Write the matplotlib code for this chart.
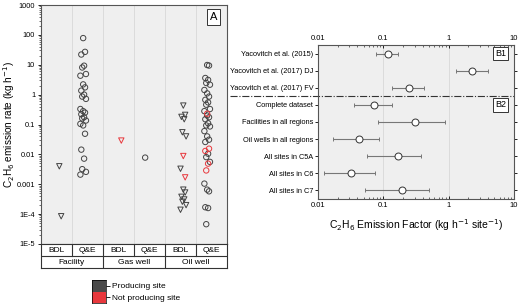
"""Ethane emission rates per site (A) and emission factors (B1/B2)."""

import matplotlib
matplotlib.use("Agg")
import matplotlib.pyplot as plt
import numpy as np

# ---- panel A data: emission rate (kg/h) per column, producing vs not producing
columns = ["BDL", "Q&E", "BDL", "Q&E", "BDL", "Q&E"]
groups = ["Facility", "Gas well", "Oil well"]

facility_bdl = [0.004, 8.5e-5]
facility_qe = [78, 27, 22, 9.3, 8.1, 4.9, 4.3, 2.2, 1.75, 1.36, 1.0, 0.86, 0.72,
               0.33, 0.28, 0.25, 0.22, 0.175, 0.16, 0.136, 0.105, 0.093, 0.049,
               0.0144, 0.0072, 0.0032, 0.0026, 0.0021]
gas_bdl_np = [0.029]
gas_qe = [0.0078]
oil_bdl = [0.43, 0.21, 0.18, 0.15, 0.055, 0.04, 0.0033, 6.6e-4, 5.3e-4, 3.8e-4,
           3.1e-4, 2.6e-4, 2.0e-4, 1.4e-4]
oil_bdl_np = [0.0088, 0.0017]
oil_qe = [9.8, 9.4, 3.6, 3.1, 2.45, 2.15, 1.43, 1.1, 0.86, 0.67, 0.55, 0.46, 0.33,
          0.28, 0.2, 0.175, 0.15, 0.11, 0.093, 0.086, 0.06, 0.04, 0.031, 0.026,
          0.0105, 0.0081, 0.0056, 0.00105, 6.6e-4, 5.8e-4, 1.7e-4, 1.6e-4, 4.6e-5]
oil_qe_np = [0.23, 0.0155, 0.013, 0.0049, 0.0029]

# ---- panel B data: emission factor (kg/h/site) with lower/upper bounds
ef_labels = ["Yacovitch et al. (2015)", "Yacovitch et al. (2017) DJ",
             "Yacovitch et al. (2017) FV", "Complete dataset",
             "Facilities in all regions", "Oil wells in all regions",
             "All sites in C5A", "All sites in C6", "All sites in C7"]
ef_mean = [0.117, 2.3, 0.25, 0.073, 0.31, 0.042, 0.168, 0.032, 0.19]
ef_low = [0.077, 1.3, 0.136, 0.036, 0.082, 0.017, 0.057, 0.0124, 0.052]
ef_high = [0.166, 3.95, 0.42, 0.137, 0.89, 0.085, 0.38, 0.075, 0.50]

legend_labels = ["Producing site", "Not producing site"]

GRAY_BG = "#efefef"
EDGE = "#444444"
RED = "#e8383d"
PROD = "#4a4a4a"
W, H = 520, 304


def fig_rect(x0, y0, x1, y1):
    return [x0 / W, 1 - y1 / H, (x1 - x0) / W, (y1 - y0) / H]


def jitter(n, base, spread=0.06):
    pattern = np.array([0, 1, -1, 0.5, -0.5, 1.5, -1.5])
    return base + pattern[np.arange(n) % len(pattern)] * spread


plt.rcParams["font.family"] = ["Liberation Sans", "DejaVu Sans"]
fig = plt.figure(figsize=(W / 100, H / 100), dpi=100)

# ---------------- panel A ----------------
ax = fig.add_axes(fig_rect(40.7, 5, 226.7, 244))
ax.set_facecolor(GRAY_BG)
ax.set_yscale("log")
ax.set_ylim(1e-5, 1000)
ax.set_xlim(-0.5, 5.5)
for xb in np.arange(0.5, 5.5, 1):
    ax.axvline(xb, color="#d8d8d8", lw=0.6, zorder=0)

series = [
    (0, facility_bdl, "v", EDGE), (1, facility_qe, "o", EDGE),
    (2, gas_bdl_np, "v", RED), (3, gas_qe, "o", EDGE),
    (4, oil_bdl, "v", EDGE), (4, oil_bdl_np, "v", RED),
    (5, oil_qe, "o", EDGE), (5, oil_qe_np, "o", RED),
]
for col, vals, mk, ec in series:
    base = col + (0.1 if mk == "v" else -0.13)
    ax.scatter(jitter(len(vals), base), vals, marker=mk, s=15, facecolors="none",
               edgecolors=ec, linewidths=0.7, zorder=3)

ax.set_yticks([1e-5, 1e-4, 1e-3, 1e-2, 1e-1, 1, 10, 100, 1000])
ax.set_yticklabels(["1E-5", "1E-4", "0.001", "0.01", "0.1", "1", "10", "100", "1000"])
ax.tick_params(axis="y", which="major", labelsize=5.3, length=2.5, width=0.6, pad=1.5)
ax.tick_params(axis="y", which="minor", length=1.5, width=0.4)
ax.set_xticks([])
ax.set_ylabel("C$_2$H$_6$ emission rate (kg h$^{-1}$)", fontsize=7.2)
ax.yaxis.set_label_coords(-0.13, 0.5)
for sp in ax.spines.values():
    sp.set_color("#555555")
    sp.set_linewidth(0.8)
ax.text(0.95, 0.97, "A", transform=ax.transAxes, ha="right", va="top", fontsize=8,
        bbox=dict(boxstyle="square,pad=0.25", fc="white", ec="#333333", lw=0.7))

# category table under panel A
axc = fig.add_axes(fig_rect(40.7, 244, 226.7, 268))
axc.set_xlim(-0.5, 5.5)
axc.set_ylim(0, 2)
axc.set_xticks([])
axc.set_yticks([])
for sp in axc.spines.values():
    sp.set_color("#333333")
    sp.set_linewidth(0.8)
axc.axhline(1, color="#333333", lw=0.8)
for xb in np.arange(0.5, 5.5, 1):
    axc.plot([xb, xb], [1, 2], color="#333333", lw=0.8)
for xb in [1.5, 3.5]:
    axc.plot([xb, xb], [0, 1], color="#333333", lw=0.8)
for i, lab in enumerate(columns):
    axc.text(i, 1.5, lab, ha="center", va="center", fontsize=6)
for i, lab in enumerate(groups):
    axc.text(2 * i + 0.5, 0.5, lab, ha="center", va="center", fontsize=6)

# colour legend
axl = fig.add_axes(fig_rect(92, 280, 106, 303))
axl.barh(np.arange(len(legend_labels)), [1] * len(legend_labels), height=1.0,
         color=[PROD, RED])
axl.set_xlim(0, 1)
axl.set_ylim(len(legend_labels) - 0.5, -0.5)
axl.set_xticks([])
axl.yaxis.tick_right()
axl.set_yticks(np.arange(len(legend_labels)))
axl.set_yticklabels(legend_labels, fontsize=6)
axl.tick_params(axis="y", length=3, width=0.6, pad=1.5)
for sp in axl.spines.values():
    sp.set_linewidth(0.5)

# ---------------- panel B ----------------
bx = fig.add_axes(fig_rect(318, 45, 514, 199))
bx.set_facecolor(GRAY_BG)
bx.set_xscale("log")
bx.set_xlim(0.01, 10)
y = np.arange(len(ef_labels))
bx.set_ylim(len(ef_labels) - 0.5, -0.5)
for xg in [0.1, 1]:
    bx.axvline(xg, color="#d8d8d8", lw=0.6, zorder=0)
mean = np.array(ef_mean)
err = [mean - np.array(ef_low), np.array(ef_high) - mean]
bx.errorbar(mean, y, xerr=err, fmt="o", ms=5, mfc="white", mec="#333333", mew=0.7,
            ecolor="#777777", elinewidth=0.8, capsize=1.5, capthick=0.6, zorder=3)
bx.plot([-(318 - 230) / 196, 1], [2.5, 2.5], transform=bx.get_yaxis_transform(),
        color="#333333", lw=0.8, ls="-.", clip_on=False)
bx.set_yticks(y)
bx.set_yticklabels(ef_labels, fontsize=5.3)
bx.set_xticks([0.01, 0.1, 1, 10])
bx.set_xticklabels(["0.01", "0.1", "1", "10"])
bx.tick_params(axis="x", which="major", top=True, labeltop=True, direction="in",
               labelsize=5.5, length=2.5, width=0.6, pad=2)
bx.tick_params(axis="x", which="minor", top=True, direction="in", length=1.5, width=0.4)
bx.tick_params(axis="y", left=True, right=True, direction="out", length=2,
               width=0.6, pad=1.5)
bx.set_xlabel("C$_2$H$_6$ Emission Factor (kg h$^{-1}$ site$^{-1}$)", fontsize=7.5,
              labelpad=6)
for sp in bx.spines.values():
    sp.set_color("#555555")
    sp.set_linewidth(0.8)
bx.text(0.96, 0, "B1", transform=bx.get_yaxis_transform(), ha="right", va="center",
        fontsize=6.5, bbox=dict(boxstyle="square,pad=0.25", fc="white", ec="#333333", lw=0.7))
bx.text(0.96, 3, "B2", transform=bx.get_yaxis_transform(), ha="right", va="center",
        fontsize=6.5, bbox=dict(boxstyle="square,pad=0.25", fc="white", ec="#333333", lw=0.7))

fig.savefig("out.png", dpi=100, facecolor="white")
